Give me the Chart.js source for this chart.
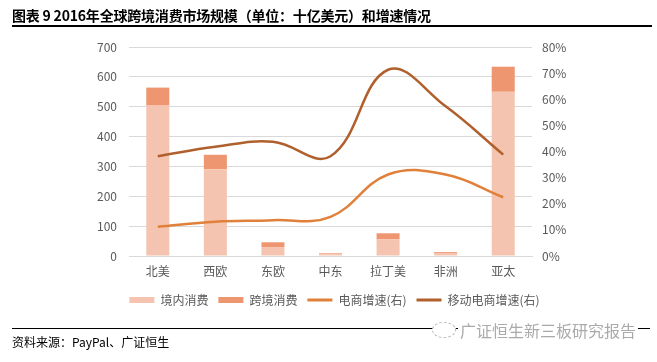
<!DOCTYPE html>
<html><head><meta charset="utf-8">
<script src="https://cdn.jsdelivr.net/npm/chart.js@4"></script>
<style>
html,body{margin:0;padding:0;background:#fff;width:657px;height:362px;overflow:hidden;}
#wrap{position:absolute;left:0;top:0;width:657px;height:362px;}
#title{position:absolute;left:12px;top:5px;font:bold 14px "Noto Sans CJK SC";color:#000;white-space:nowrap;letter-spacing:-0.2px;}
#tline{position:absolute;left:12px;top:25px;width:640px;height:2px;background:#000;}
#fline{position:absolute;left:12px;top:328px;width:638px;height:1px;background:#000;}
#src{position:absolute;left:12px;top:333px;font:12px "Noto Sans CJK SC";color:#000;white-space:nowrap;}
#wm{position:absolute;left:458px;top:318px;font:16px "Noto Sans CJK SC";color:#aaa;white-space:nowrap;background:#fff;padding:0 2px;text-shadow:0 0 1px #fff;}
#wmi{position:absolute;left:432px;top:322px;width:22px;height:14px;border:1px dashed #bbb;border-radius:50%;background:#fff;}
</style></head>
<body>
<div id="wrap"><canvas id="c" width="657" height="362"></canvas></div>
<div id="title">图表 9 2016年全球跨境消费市场规模（单位：十亿美元）和增速情况</div>
<div id="tline"></div>
<div id="fline"></div>
<div id="wmi"></div>
<div id="wm">广证恒生新三板研究报告</div>
<div id="src">资料来源：PayPal、广证恒生</div>
<script>
const categories = ['北美','西欧','东欧','中东','拉丁美','非洲','亚太'];
const domestic = [504, 290, 30, 6, 56, 10, 550];
const crossBorder = [60, 49, 16, 3, 20, 3, 84];
const ecomGrowth = [0.112, 0.131, 0.137, 0.150, 0.312, 0.312, 0.225];
const mobileGrowth = [0.382, 0.418, 0.437, 0.382, 0.713, 0.573, 0.388];
const leftTicksMax = 700;
const rightTicksMax = 0.8;

const tickFont = {family: 'Noto Sans CJK SC', size: 12};
const gray = '#595959';

new Chart(document.getElementById('c'), {
  data: {
    labels: categories,
    datasets: [
      {type:'bar', label:'境内消费', data: domestic, backgroundColor:'#F5C4B0', yAxisID:'y', order:1, barPercentage:0.4, categoryPercentage:1.0, stack:'s'},
      {type:'bar', label:'跨境消费', data: crossBorder, backgroundColor:'#EE9670', yAxisID:'y', order:1, barPercentage:0.4, categoryPercentage:1.0, stack:'s'},
      {type:'line', label:'电商增速(右)', data: ecomGrowth, borderColor:'#E0803A', backgroundColor:'#E0803A', borderWidth:2.5, pointRadius:0, tension:0.4, yAxisID:'y1', order:0, pointStyle:'line'},
      {type:'line', label:'移动电商增速(右)', data: mobileGrowth, borderColor:'#B0602C', backgroundColor:'#B0602C', borderWidth:2.5, pointRadius:0, tension:0.4, yAxisID:'y1', order:0, pointStyle:'line'}
    ]
  },
  options: {
    responsive:false, animation:false, maintainAspectRatio:false,
    layout:{padding:{top:47, left:12, right:0, bottom:46}},
    plugins:{
      tooltip:{enabled:false},
      legend:{position:'bottom', labels:{
        font:{family:'Noto Sans CJK SC', size:12}, color:gray,
        usePointStyle:true, pointStyleWidth:25, boxHeight:6, padding:10,
        sort:(a,b)=>a.datasetIndex-b.datasetIndex,
        generateLabels:(chart)=>{
          const items = Chart.defaults.plugins.legend.labels.generateLabels(chart);
          items.forEach(it=>{
            const ds = chart.data.datasets[it.datasetIndex];
            if (ds.type==='bar'){ it.pointStyle='rect'; it.lineWidth=0; }
            else { it.pointStyle='line'; it.lineWidth=3; }
          });
          return items;
        }
      }}
    },
    scales:{
      x:{stacked:true, grid:{display:false, drawTicks:false}, border:{display:true, color:'#D9D9D9'},
         ticks:{font:tickFont, color:gray, padding:8},
         afterFit:(s)=>{s.height=28;}},
      y:{position:'left', stacked:true, min:0, max:leftTicksMax,
         ticks:{stepSize:100, font:tickFont, color:gray, padding:12},
         grid:{color:'#D9D9D9', drawTicks:false}, border:{display:false},
         afterFit:(s)=>{s.width=117;}},
      y1:{position:'right', min:0, max:rightTicksMax,
         ticks:{stepSize:0.1, font:tickFont, color:gray, padding:10, callback:(v)=>Math.round(v*100)+'%'},
         grid:{display:false, drawTicks:false}, border:{display:false},
         afterFit:(s)=>{s.width=125;}}
    }
  }
});
</script>
</body></html>
